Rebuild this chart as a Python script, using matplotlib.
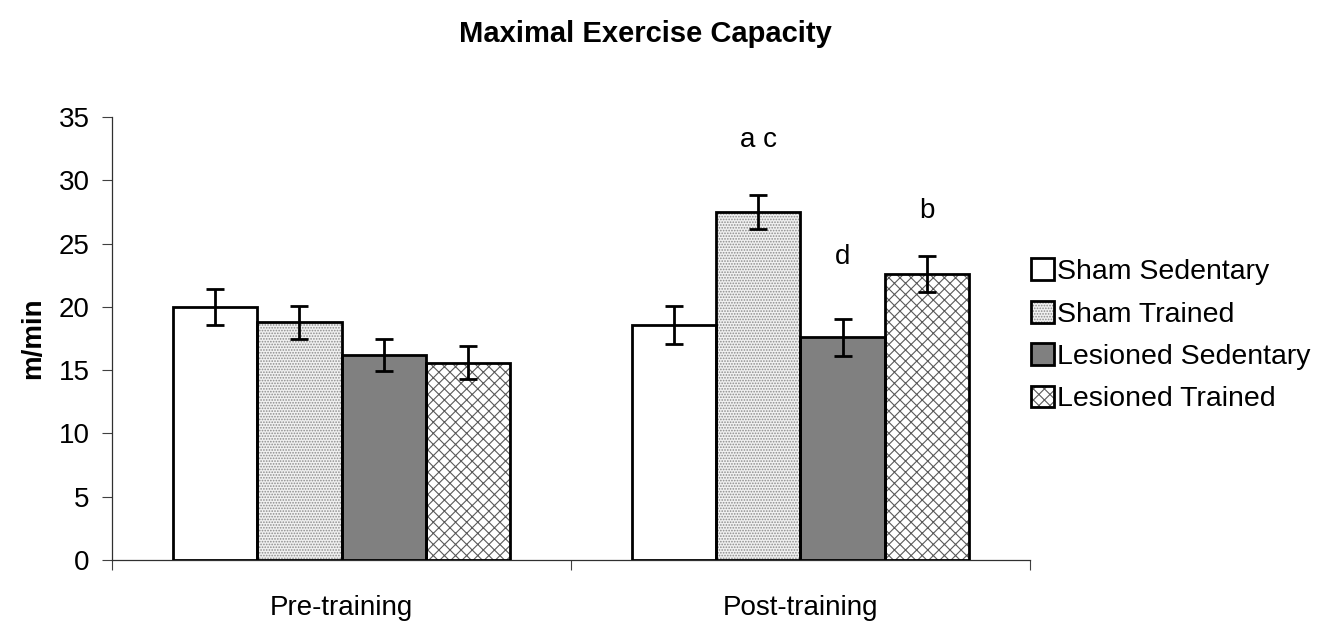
import matplotlib
matplotlib.use("Agg")
import matplotlib.pyplot as plt
import numpy as np
from matplotlib.patches import Patch

plt.rcParams['font.family'] = ['Liberation Sans', 'DejaVu Sans']
plt.rcParams['hatch.linewidth'] = 0.8

# data
phases = ["Pre-training", "Post-training"]
groups = ["Sham Sedentary", "Sham Trained", "Lesioned Sedentary", "Lesioned Trained"]
means = {
    "Sham Sedentary": [20.0, 18.6],
    "Sham Trained": [18.8, 27.5],
    "Lesioned Sedentary": [16.2, 17.6],
    "Lesioned Trained": [15.6, 22.6],
}
errors = {
    "Sham Sedentary": [1.4, 1.5],
    "Sham Trained": [1.3, 1.35],
    "Lesioned Sedentary": [1.3, 1.45],
    "Lesioned Trained": [1.3, 1.4],
}
# significance letters on the post-training bars
letters = {"Sham Trained": "a c", "Lesioned Sedentary": "d", "Lesioned Trained": "b"}
letter_y = {"Sham Trained": 33.2, "Lesioned Sedentary": 23.9, "Lesioned Trained": 27.6}

# fill colour, hatch, hatch colour per group
styles = {
    "Sham Sedentary": ("white", "", "white"),
    "Sham Trained": ("#f0f0f0", "......", "#8c8c8c"),
    "Lesioned Sedentary": ("#808080", "", "#808080"),
    "Lesioned Trained": ("white", "xxx", "#5a5a5a"),
}

fig = plt.figure(figsize=(13.29, 6.21), dpi=100)
ax = fig.add_axes([0.0843, 0.0982, 0.6907, 0.7134])

x = np.arange(len(phases))
width = 0.1835
lw = 2.0
handles = []
for i, g in enumerate(groups):
    pos = x + (i - 1.5) * width
    fc, hatch, hc = styles[g]
    ax.bar(pos, means[g], width, color=fc, edgecolor=hc, hatch=hatch, linewidth=0, zorder=2)
    ax.bar(pos, means[g], width, fill=False, edgecolor='black', linewidth=lw, zorder=3)
    ax.errorbar(pos, means[g], yerr=errors[g], fmt='none', ecolor='black',
                elinewidth=lw, capsize=6.5, capthick=lw, zorder=4)
    if g in letters:
        ax.text(pos[1], letter_y[g], letters[g], ha='center', va='center', fontsize=20)
    handles.append((Patch(facecolor=fc, edgecolor=hc, hatch=hatch, linewidth=0),
                    Patch(fill=False, edgecolor='black', linewidth=lw)))

ax.set_xlim(-0.5, 1.5)
ax.set_ylim(0, 35)
ax.set_yticks(np.arange(0, 36, 5))
ax.set_xticks([-0.5, 0.5, 1.5])
ax.set_xticklabels([])
ax.set_xticks(x, minor=True)
ax.set_xticklabels(phases, minor=True)
ax.tick_params(axis='x', which='major', length=7, width=0.8, direction='out', color='#404040')
ax.tick_params(axis='x', which='minor', length=0, pad=25, labelsize=20)
ax.tick_params(axis='y', length=7, width=0.8, direction='out', pad=9, labelsize=20, color='#404040')
for s in ['top', 'right']:
    ax.spines[s].set_visible(False)
for s in ['left', 'bottom']:
    ax.spines[s].set_linewidth(0.9)
    ax.spines[s].set_color('#303030')

ax.set_ylabel("m/min", fontsize=20, fontweight='bold', labelpad=9)

fig.text(0.486, 0.945, "Maximal Exercise Capacity", ha='center', va='center',
         fontsize=21, fontweight='bold')

fig.legend(handles, groups, loc='center left', bbox_to_anchor=(0.765, 0.46),
           frameon=False, fontsize=20.5, handlelength=0.8, handleheight=0.8,
           handletextpad=0.1, labelspacing=0.55, borderpad=0)

fig.savefig("out.png", dpi=100)
